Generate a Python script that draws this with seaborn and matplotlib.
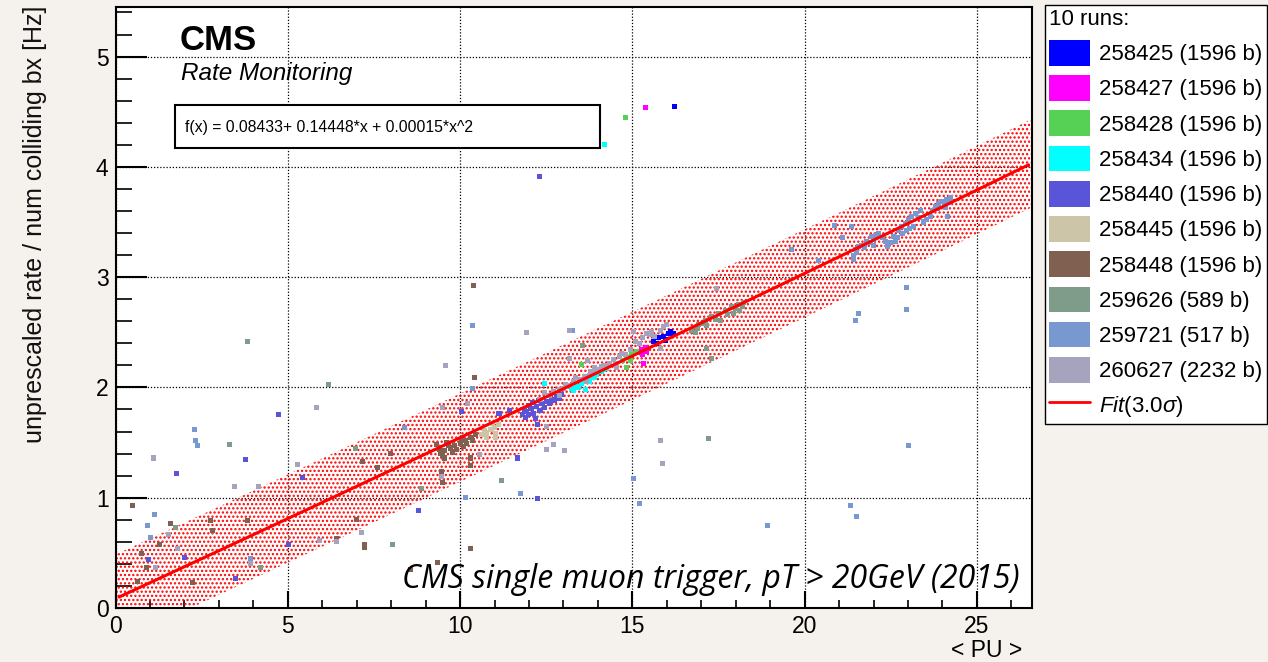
import numpy as np
import pandas as pd
import matplotlib.pyplot as plt
import seaborn as sns
from matplotlib.patches import Patch, Rectangle
from matplotlib.lines import Line2D
from matplotlib.ticker import MultipleLocator

# === data ===
runs = ['258425', '258427', '258428', '258434', '258440',
        '258445', '258448', '259626', '259721', '260627']
bunches = ['1596', '1596', '1596', '1596', '1596', '1596', '1596', '589', '517', '2232']
colors = ['#0000ff', '#ff00ff', '#57d155', '#00ffff', '#5954d8',
          '#ccc5a8', '#7f6051', '#7f9c8a', '#7899d0', '#a6a3bf']

x_258425 = [15.61, 15.70, 15.76, 15.90, 15.95, 16.05, 16.10, 16.19, 16.21]
y_258425 = [2.42, 2.40, 2.45, 2.46, 2.43, 2.49, 2.51, 2.49, 4.55]

x_258427 = [15.27, 15.30, 15.37, 15.42, 15.33, 15.37]
y_258427 = [2.34, 2.30, 2.36, 2.33, 2.22, 4.54]

x_258428 = [14.72, 14.84, 14.98, 15.11, 14.84, 14.94, 15.04, 13.53, 14.80]
y_258428 = [2.24, 2.27, 2.30, 2.33, 2.18, 2.24, 2.31, 2.21, 4.45]

x_258434 = [13.24, 13.39, 13.53, 13.68, 13.82, 13.97, 14.11, 14.24, 13.63, 13.43, 13.77, 13.30,
            13.90, 14.15, 12.44, 14.19]
y_258434 = [1.99, 2.01, 2.04, 2.07, 2.09, 2.12, 2.14, 2.17, 1.98, 2.00, 2.05, 1.97,
            2.09, 2.16, 2.04, 4.20]

x_258440 = [11.82, 11.89, 11.94, 12.02, 12.08, 12.14, 12.23, 12.32, 12.37, 12.52, 12.66, 12.81, 12.95,
            11.86, 11.98, 12.10, 12.28, 12.45, 12.60, 12.75, 12.88, 12.18,
            12.31, 4.72, 3.77, 1.78, 5.44, 2.01, 0.97, 3.49, 5.03, 10.03, 11.13, 11.43, 12.25, 11.66,
            8.80, 12.24]
y_258440 = [1.75, 1.73, 1.78, 1.84, 1.81, 1.76, 1.83, 1.79, 1.85, 1.87, 1.89, 1.92, 1.94,
            1.79, 1.75, 1.86, 1.88, 1.82, 1.85, 1.88, 1.90, 1.72,
            3.91, 1.75, 1.35, 1.22, 1.18, 0.46, 0.44, 0.27, 0.58, 1.78, 1.76, 1.79, 1.66, 1.36,
            0.88, 0.99]

x_258445 = [10.63, 10.76, 10.87, 11.00, 11.12, 10.78, 11.02, 11.04, 10.70, 10.95]
y_258445 = [1.57, 1.59, 1.62, 1.64, 1.66, 1.55, 1.58, 1.55, 1.61, 1.67]

x_258448 = [9.44, 9.56, 9.71, 9.85, 10.00, 10.15, 10.29, 10.44, 9.50, 9.79, 10.10, 9.32, 9.60, 10.20,
            9.40, 9.65, 9.90, 10.05, 10.35, 9.55,
            10.39, 10.41, 0.48, 1.59, 1.28, 2.77, 2.81, 3.84, 0.74, 0.89, 0.63, 2.24, 6.40, 7.00,
            7.24, 7.24, 7.17, 7.59, 7.97, 10.29, 10.29, 9.46, 9.50, 10.29, 8.57, 9.34]
y_258448 = [1.40, 1.43, 1.45, 1.47, 1.49, 1.52, 1.55, 1.57, 1.38, 1.41, 1.46, 1.48, 1.50, 1.49,
            1.44, 1.47, 1.44, 1.53, 1.52, 1.36,
            2.92, 2.09, 0.93, 0.77, 0.58, 0.79, 0.70, 0.79, 0.49, 0.37, 0.24, 0.23, 0.63, 0.80,
            0.55, 0.58, 1.33, 1.27, 1.40, 1.36, 1.29, 1.24, 1.14, 0.54, 0.35, 0.41]

x_259626 = [16.73, 16.92, 17.11, 17.31, 17.50, 17.69, 17.89, 18.08, 18.22, 16.82, 17.16, 17.55, 17.93, 18.12,
            16.90, 17.05, 17.40, 17.75, 18.00, 18.20,
            3.84, 6.17, 3.30, 6.97, 1.74, 4.22, 8.05, 13.54, 11.21, 8.88, 17.16, 17.29, 17.21]
y_259626 = [2.52, 2.57, 2.61, 2.64, 2.67, 2.70, 2.73, 2.75, 2.77, 2.50, 2.56, 2.61, 2.67, 2.70,
            2.53, 2.58, 2.62, 2.66, 2.72, 2.73,
            2.42, 2.03, 1.48, 1.45, 0.73, 0.37, 0.58, 2.38, 1.16, 1.08, 2.35, 2.26, 1.54]

x_259721 = [21.42, 21.47, 21.56, 21.66, 21.81, 21.95, 22.05, 22.14, 22.00, 22.34, 22.48, 22.63, 22.72,
            22.82, 22.92, 23.01, 23.11, 23.21, 22.97, 23.16, 23.55, 23.64, 23.79, 23.88, 23.98, 24.13,
            24.22, 24.08, 24.16, 23.35, 21.42, 22.00, 22.57,
            21.50, 21.75, 21.90, 22.25, 22.40, 22.70, 22.85, 23.05, 23.30, 23.45, 23.70, 23.85, 24.05,
            24.20,
            2.28, 2.32, 2.39, 8.38, 1.13, 0.93, 1.01, 3.91, 10.37, 13.25, 10.37, 10.15, 11.74, 15.03,
            15.22, 19.61, 20.41, 20.88, 21.37, 21.10, 22.97, 22.97, 21.55, 21.49, 23.01, 21.33, 21.52,
            18.92]
y_259721 = [3.16, 3.25, 3.28, 3.29, 3.32, 3.37, 3.38, 3.40, 3.29, 3.32, 3.31, 3.32, 3.42,
            3.46, 3.49, 3.52, 3.55, 3.58, 3.42, 3.46, 3.52, 3.55, 3.64, 3.67, 3.69, 3.70,
            3.72, 3.63, 3.55, 3.60, 3.20, 3.34, 3.37,
            3.22, 3.27, 3.31, 3.36, 3.28, 3.36, 3.40, 3.44, 3.54, 3.50, 3.60, 3.62, 3.66,
            3.68,
            1.62, 1.52, 1.47, 1.64, 0.85, 0.75, 0.64, 0.45, 2.56, 2.52, 1.99, 1.00, 1.04, 1.17,
            0.95, 3.25, 3.15, 3.47, 3.46, 3.36, 2.91, 2.71, 2.67, 2.61, 1.47, 0.93, 0.83,
            0.75]

x_260627 = [12.32, 12.61, 12.90, 13.19, 13.48, 13.77, 14.06, 14.35, 14.64, 14.94, 15.22, 15.51, 15.81,
            16.00, 15.03, 15.42, 12.90, 13.68, 14.55, 14.69, 15.81, 12.45, 13.05, 13.35, 13.95, 14.20,
            14.80, 15.10, 15.65, 12.70, 13.00, 13.30, 13.60, 13.90, 14.45, 15.30, 15.55, 15.90, 14.10,
            13.80,
            5.82, 1.09, 5.29, 3.45, 4.15, 1.55, 1.81, 1.17, 3.91, 5.91, 6.40, 7.13, 11.94, 13.19, 9.57,
            13.19, 13.70, 9.49, 10.22, 12.50, 12.70, 12.51, 13.04, 10.56, 9.46, 15.83, 15.87, 17.43,
            14.55]
y_260627 = [1.89, 1.93, 1.98, 2.02, 2.07, 2.11, 2.16, 2.22, 2.28, 2.34, 2.40, 2.48, 2.52,
            2.57, 2.51, 2.49, 1.93, 2.05, 2.22, 2.31, 2.35, 1.95, 2.03, 2.09, 2.15, 2.20,
            2.30, 2.42, 2.46, 1.96, 1.99, 2.05, 2.10, 2.18, 2.25, 2.45, 2.51, 2.55, 2.19,
            2.14,
            1.82, 1.36, 1.30, 1.10, 1.10, 0.67, 0.54, 0.37, 0.40, 0.61, 0.60, 0.68, 2.50, 2.52, 2.20,
            2.26, 2.24, 1.82, 1.85, 1.65, 1.48, 1.44, 1.43, 1.39, 1.19, 1.52, 1.31, 2.90,
            2.18]

xs = [x_258425, x_258427, x_258428, x_258434, x_258440,
      x_258445, x_258448, x_259626, x_259721, x_260627]
ys = [y_258425, y_258427, y_258428, y_258434, y_258440,
      y_258445, y_258448, y_259626, y_259721, y_260627]

# fit parameters shown in the box, band = 3 sigma
fit_coef = [0.08433, 0.14448, 0.00015]
band_half = 0.40

df = pd.concat([pd.DataFrame({'pu': x, 'rate': y, 'run': r}) for r, x, y in zip(runs, xs, ys)],
               ignore_index=True)
palette = dict(zip(runs, colors))


def fit(x):
    return fit_coef[0] + fit_coef[1] * x + fit_coef[2] * x ** 2


# === style ===
sns.set_style('ticks')
plt.rcParams['font.family'] = ['Liberation Sans', 'DejaVu Sans']
plt.rcParams['mathtext.fontset'] = 'custom'
plt.rcParams['mathtext.rm'] = 'Liberation Sans'
plt.rcParams['mathtext.it'] = 'Liberation Sans:italic'
plt.rcParams['hatch.linewidth'] = 1.1
for key in ['text.color', 'axes.labelcolor', 'xtick.color', 'ytick.color']:
    plt.rcParams[key] = 'black'

fig = plt.figure(figsize=(12.68, 6.62), dpi=100, facecolor='#f5f1ec')
ax = fig.add_axes([0.0911, 0.0816, 0.7228, 0.9079])
ax.set_facecolor('white')

# band
xb = np.linspace(0, 26.55, 200)
ax.fill_between(xb, fit(xb) - band_half, fit(xb) + band_half, facecolor='none',
                edgecolor='red', hatch='....', linewidth=0, zorder=1)

# points
sns.scatterplot(data=df, x='pu', y='rate', hue='run', palette=palette, marker='s',
                s=13, linewidth=0, legend=False, ax=ax, zorder=3)

# fit line
xf = np.linspace(0.1, 26.5, 200)
sns.lineplot(x=xf, y=fit(xf), color='red', linewidth=2.2, ax=ax, zorder=4)

ax.set_xlim(0, 26.6)
ax.set_ylim(0, 5.45)
ax.xaxis.set_major_locator(MultipleLocator(5))
ax.xaxis.set_minor_locator(MultipleLocator(1))
ax.yaxis.set_major_locator(MultipleLocator(1))
ax.yaxis.set_minor_locator(MultipleLocator(0.2))
ax.tick_params(axis='y', which='major', direction='in', length=22, width=1.5, labelsize=16.5, pad=5)
ax.tick_params(axis='y', which='minor', direction='in', length=11.5, width=1.2)
ax.tick_params(axis='x', which='major', direction='in', length=12, width=1.5, labelsize=16.5, pad=5)
ax.tick_params(axis='x', which='minor', direction='in', length=6, width=1.2)
ax.grid(which='major', linestyle=(0, (1, 1.5)), color='black', linewidth=0.9)
ax.set_axisbelow(True)
for spine in ax.spines.values():
    spine.set_visible(True)
    spine.set_color('black')
    spine.set_linewidth(1.5)

ax.set_xlabel('< PU >', fontsize=16.5, loc='right')
ax.xaxis.set_label_coords(0.989, -0.052)
ax.set_ylabel('')
ax.text(-0.088, 1.003, 'unprescaled rate / num colliding bx [Hz]', transform=ax.transAxes,
        rotation=90, ha='center', va='top', fontsize=18, color='#111111')

# labels inside
ax.text(0.0704, 0.928, 'CMS', transform=ax.transAxes, fontsize=25, fontweight='bold',
        va='baseline', ha='left')
ax.text(0.0714, 0.879, 'Rate Monitoring', transform=ax.transAxes, fontsize=17.5,
        style='italic', va='baseline', ha='left')
ax.add_patch(Rectangle((0.065, 0.765), 0.464, 0.072, transform=ax.transAxes,
                       facecolor='white', edgecolor='black', linewidth=1.5, zorder=5))
ax.text(0.076, 0.800, 'f(x) = 0.08433+ 0.14448*x + 0.00015*x^2', transform=ax.transAxes,
        fontsize=11.3, va='center', ha='left', zorder=6)
ax.text(0.987, 0.047, 'CMS single muon trigger, pT > 20GeV (2015)', transform=ax.transAxes,
        fontsize=23, family=['Open Sans', 'DejaVu Sans'], style='italic',
        va='center', ha='right', zorder=6)

# legend
handles = [Patch(facecolor=c, edgecolor='none') for c in colors]
handles.append(Line2D([0], [0], color='red', linewidth=2))
labels = [f'{r} ({b} b)' for r, b in zip(runs, bunches)]
labels.append(r'$\mathit{Fit}$(3.0$\mathit{\sigma}$)')
leg = fig.legend(handles, labels, title='10 runs:', loc='upper left',
                 bbox_to_anchor=(1045 / 1268, 1 - 5 / 662), bbox_transform=fig.transFigure,
                 fontsize=16, title_fontsize=16, frameon=True, fancybox=False,
                 edgecolor='black', framealpha=1, handlelength=1.83, handleheight=1.4,
                 labelspacing=0.43, handletextpad=0.4, borderpad=0.2, borderaxespad=0,
                 alignment='left')
leg.get_frame().set_linewidth(1.0)

plt.savefig('out.png', dpi=100, facecolor=fig.get_facecolor())
